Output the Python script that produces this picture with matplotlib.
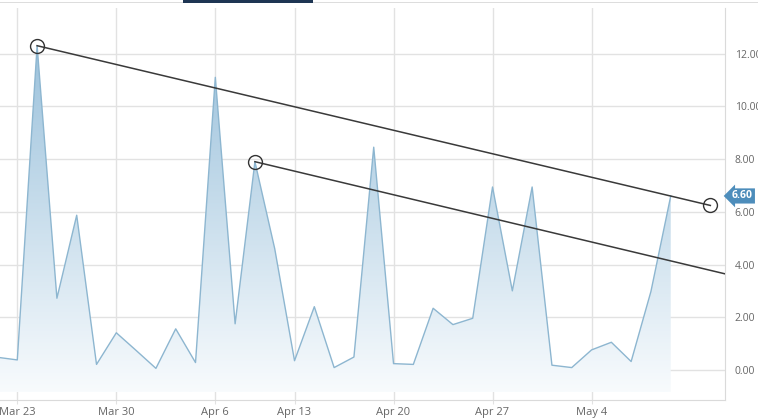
import numpy as np
import matplotlib
matplotlib.use("Agg")
import matplotlib.pyplot as plt
from matplotlib.patches import Rectangle

plt.rcParams['font.family'] = ['Open Sans', 'DejaVu Sans']

# trading days shown (Good Friday Apr 10 missing)
dates = ["Mar 20", "Mar 23", "Mar 24", "Mar 25", "Mar 26", "Mar 27",
         "Mar 30", "Mar 31", "Apr 1", "Apr 2", "Apr 3",
         "Apr 6", "Apr 7", "Apr 8", "Apr 9",
         "Apr 13", "Apr 14", "Apr 15", "Apr 16", "Apr 17",
         "Apr 20", "Apr 21", "Apr 22", "Apr 23", "Apr 24",
         "Apr 27", "Apr 28", "Apr 29", "Apr 30", "May 1",
         "May 4", "May 5", "May 6", "May 7", "May 8"]
values = [0.48, 0.38, 12.3, 2.72, 5.87, 0.21,
          1.41, 0.74, 0.06, 1.56, 0.28,
          11.1, 1.75, 7.9, 4.6,
          0.35, 2.4, 0.09, 0.49, 8.45,
          0.24, 0.21, 2.34, 1.72, 1.96,
          6.94, 3.0, 6.94, 0.18, 0.09,
          0.76, 1.05, 0.32, 2.98, 6.60]
tick_dates = ["Mar 23", "Mar 30", "Apr 6", "Apr 13", "Apr 20", "Apr 27", "May 4"]
yticks = [0, 2, 4, 6, 8, 10, 12]

# trend channel, (trading-day position, value); 36 = May 12
upper_line = ([2, 36], [12.3, 6.24])
lower_line = ([13, 38], [7.9, 3.42])
last_value = 6.60

x = np.arange(len(values))
y = np.array(values)

fig = plt.figure(figsize=(7.58, 4.18), dpi=100)
ax = fig.add_axes([0.0, 1 - 400/418, 725/758, 392/418])
ax.set_xlim(0.126, 36.74)
ax.set_ylim(-1.14, 13.73)

grid_c = '#e2e2e2'
ax.set_yticks(yticks)
ax.set_yticklabels(['%.2f' % v for v in yticks])
ax.yaxis.tick_right()
ax.tick_params(axis='y', length=0, pad=7, labelsize=7.5, labelcolor='#666666')
tpos = [dates.index(d) for d in tick_dates]
ax.set_xticks(tpos)
ax.set_xticklabels(tick_dates)
ax.tick_params(axis='x', length=3, color=grid_c, pad=2, labelsize=8, labelcolor='#666666')
ax.grid(True, color=grid_c, linewidth=1)
ax.set_axisbelow(True)
for s in ['top', 'left']:
    ax.spines[s].set_visible(False)
for s in ['right', 'bottom']:
    ax.spines[s].set_color('#dadada')

# gradient area
base = -0.85
poly = ax.fill_between(x, y, base, color='none', lw=0)
grad = np.linspace(0, 1, 256).reshape(-1, 1)
cmap = matplotlib.colors.LinearSegmentedColormap.from_list('g', ['#f8fbfd', '#9cc2dc'])
im = ax.imshow(grad, extent=[x[0], x[-1], base, max(values)], origin='lower',
               aspect='auto', cmap=cmap, zorder=1)
im.set_clip_path(poly.get_paths()[0], transform=ax.transData)
ax.plot(x, y, color='#8db6d0', lw=1, zorder=2)

# trend lines
for ln in (upper_line, lower_line):
    ax.plot(ln[0], ln[1], color='#3a3a3a', lw=1.1, zorder=3)
ax.plot([upper_line[0][0], upper_line[0][1], lower_line[0][0]],
        [upper_line[1][0], upper_line[1][1], lower_line[1][0]],
        'o', ms=10, mfc='none', mec='#333333', mew=1, zorder=4)

# last value flag
ax.annotate('%.2f' % last_value, xy=(1.0, last_value), xycoords=('axes fraction', 'data'),
            xytext=(12.5, 0), textcoords='offset points', ha='center', va='center',
            fontsize=7.5, fontweight='bold', color='white', annotation_clip=False,
            bbox=dict(boxstyle='larrow,pad=0.2', fc='#4d8dbb', ec='none'))

# top strip of the page
fig.add_artist(Rectangle((0, 1 - 3/418), 1, 0.6/418, transform=fig.transFigure,
                         color='#dddddd', lw=0))
fig.add_artist(Rectangle((183/758, 1 - 2.5/418), 130/758, 2.5/418, transform=fig.transFigure,
                         color='#1e3553', lw=0))

fig.savefig('out.png', dpi=100)
